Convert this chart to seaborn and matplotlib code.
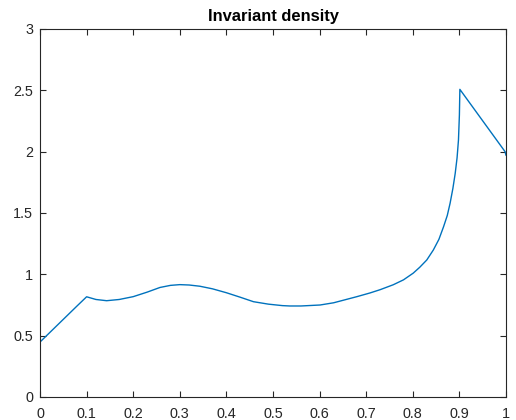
import matplotlib
matplotlib.use("Agg")
import matplotlib.pyplot as plt
import seaborn as sns
import pandas as pd

x_vals = [0.0, 0.02, 0.04, 0.06, 0.08, 0.1, 0.12, 0.143, 0.17, 0.2, 0.23, 0.2575, 0.28, 0.3, 0.32,
          0.343, 0.37, 0.4, 0.43, 0.458, 0.49, 0.52, 0.536, 0.56, 0.601, 0.63, 0.658, 0.68,
          0.708, 0.73, 0.758, 0.78, 0.801, 0.815, 0.83, 0.844, 0.856, 0.866, 0.874, 0.88,
          0.886, 0.891, 0.895, 0.898, 0.9, 0.901, 0.998, 1.0]
y_vals = [0.448, 0.522, 0.596, 0.670, 0.744, 0.817, 0.795, 0.785, 0.795, 0.818, 0.855, 0.893,
          0.910, 0.916, 0.913, 0.903, 0.882, 0.850, 0.813, 0.777, 0.757, 0.745, 0.742, 0.742,
          0.750, 0.768, 0.796, 0.818, 0.848, 0.875, 0.915, 0.955, 1.010, 1.058, 1.117, 1.198,
          1.285, 1.388, 1.480, 1.579, 1.700, 1.823, 1.950, 2.095, 2.300, 2.508, 2.00, 1.97]

title_text = "Invariant density"
x_ticks = [0, 0.1, 0.2, 0.3, 0.4, 0.5, 0.6, 0.7, 0.8, 0.9, 1]
x_labels = ["0", "0.1", "0.2", "0.3", "0.4", "0.5", "0.6", "0.7", "0.8", "0.9", "1"]
y_ticks = [0, 0.5, 1, 1.5, 2, 2.5, 3]
y_labels = ["0", "0.5", "1", "1.5", "2", "2.5", "3"]

sns.set_style("white")
plt.rcParams['font.family'] = ['Liberation Sans', 'DejaVu Sans']

df = pd.DataFrame({"x": x_vals, "y": y_vals})

fig = plt.figure(figsize=(5.16, 4.2), dpi=100)
ax = fig.add_axes([40/516, 1 - 397/420, 466/516, 368/420])
sns.lineplot(data=df, x="x", y="y", ax=ax, color="#0072BD", linewidth=1.0, sort=False)

ax.set_xlim(0, 1)
ax.set_ylim(0, 3)
ax.set_xticks(x_ticks)
ax.set_xticklabels(x_labels)
ax.set_yticks(y_ticks)
ax.set_yticklabels(y_labels)
ax.set_xlabel("")
ax.set_ylabel("")
ax.set_title(title_text, fontsize=11.9, fontweight="bold", color="black", pad=6)

for s in ax.spines.values():
    s.set_visible(True)
    s.set_color("#262626")
    s.set_linewidth(0.8)
ax.tick_params(direction="in", length=4, width=0.8, colors="#262626",
               labelsize=10.4, labelcolor="#262626", top=True, right=True,
               bottom=True, left=True)
ax.tick_params(axis="x", pad=7)
ax.tick_params(axis="y", pad=5)

fig.savefig("out.png", dpi=100)
